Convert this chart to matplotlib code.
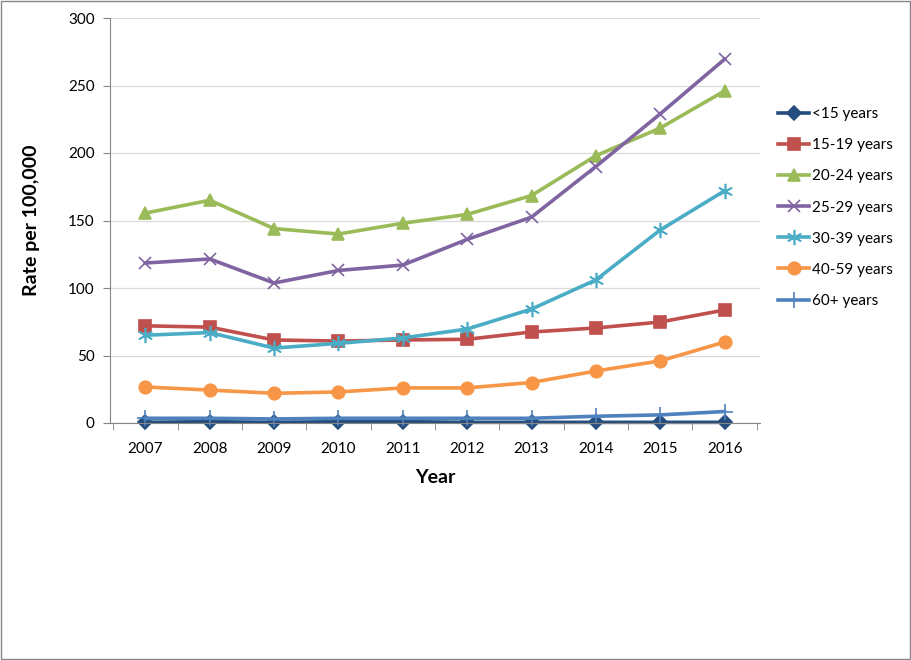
import matplotlib.pyplot as plt
from matplotlib.patches import Rectangle

plt.rcParams['font.family'] = ['Lato', 'DejaVu Sans']

years = [2007, 2008, 2009, 2010, 2011, 2012, 2013, 2014, 2015, 2016]
under15 = [0.5, 1.0, 0.5, 1.0, 1.0, 0.5, 0.5, 0.5, 0.5, 0.5]
age15_19 = [72, 71, 61.5, 60.7, 61.5, 62, 67.4, 70.4, 74.8, 83.7]
age20_24 = [155.5, 165, 144, 140, 148, 154.5, 168.5, 198, 218.5, 246]
age25_29 = [118.5, 121.5, 103.7, 113, 117, 136, 152.5, 190, 229, 269.5]
age30_39 = [65, 67, 55.5, 59, 63, 69.6, 84.4, 106, 143, 172]
age40_59 = [26.7, 24.4, 22, 23, 26, 26, 30, 38.5, 46, 60]
age60plus = [3.5, 3.5, 3, 3.5, 3.5, 3.5, 3.5, 5, 6, 8.5]

series = [
    ('<15 years', under15, '#254E7E', 'D', 7),
    ('15-19 years', age15_19, '#C0504D', 's', 8),
    ('20-24 years', age20_24, '#9BBB59', '^', 9),
    ('25-29 years', age25_29, '#8064A2', 'x', 9),
    ('30-39 years', age30_39, '#4BACC6', (6, 2, 0), 11),
    ('40-59 years', age40_59, '#F79646', 'o', 9),
    ('60+ years', age60plus, '#4F81BD', '+', 12),
]

fig = plt.figure(figsize=(9.11, 6.6), dpi=100)
ax = fig.add_axes([110 / 911, 1 - 423 / 660, 650 / 911, 405 / 660])

x = list(range(len(years)))
for label, vals, color, marker, ms in series:
    ax.plot(x, vals, color=color, lw=2.6, marker=marker, markersize=ms,
            markeredgewidth=1.2, label=label, clip_on=False)

ax.set_xlim(-0.55, len(years) - 0.45)
ax.set_ylim(0, 300)
ax.set_yticks(range(0, 301, 50))
ax.set_xticks(x)
ax.set_xticklabels([str(y) for y in years], fontsize=11)
ax.set_xticks([i - 0.5 for i in range(len(years) + 1)], minor=True)
ax.tick_params(axis='x', which='major', length=0, pad=14)
ax.tick_params(axis='x', which='minor', length=5, color='#868686', direction='out')
ax.tick_params(axis='y', length=5, color='#868686', labelsize=11, pad=6)
ax.grid(axis='y', color='#D9D9D9', lw=0.9)
ax.set_axisbelow(True)
for s in ['top', 'right']:
    ax.spines[s].set_visible(False)
for s in ['left', 'bottom']:
    ax.spines[s].set_color('#868686')

ax.set_xlabel('Year', fontsize=14, fontweight='bold', labelpad=9)
ax.set_ylabel('Rate per 100,000', fontsize=14, fontweight='bold', labelpad=20)

ax.legend(loc='upper left', bbox_to_anchor=(1.0, 0.825), frameon=False,
          fontsize=11, handlelength=2.0, labelspacing=1.12, handletextpad=0.2,
          borderaxespad=0.8)

fig.patches.append(Rectangle((0.001, 0.001), 0.998, 0.998, transform=fig.transFigure,
                             fill=False, edgecolor='#868686', lw=1))

plt.savefig('out.png')
